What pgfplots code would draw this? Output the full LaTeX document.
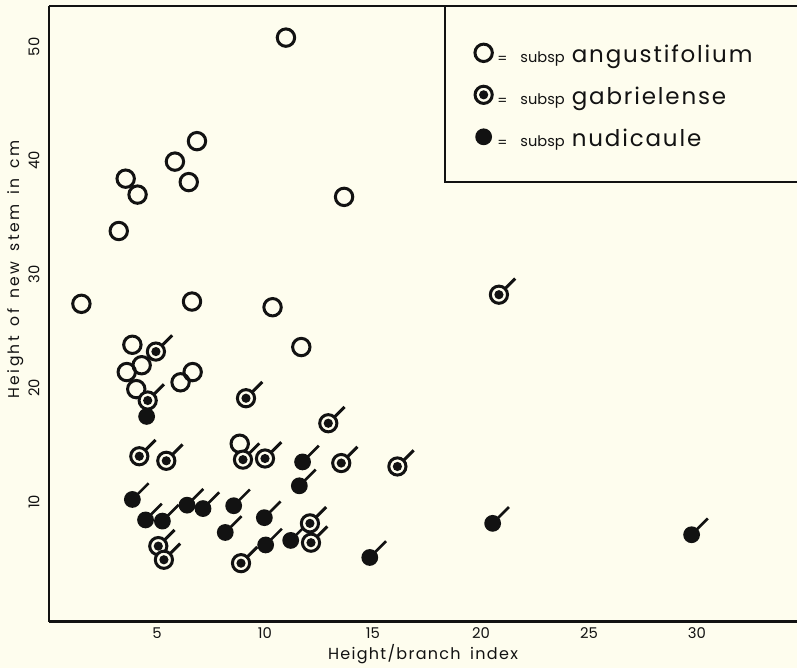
\documentclass[border=0pt]{standalone}
\usepackage{pgfplots}
\pgfplotsset{compat=1.18}
\usepackage{fontspec}
\setmainfont{Poppins}
\newfontfamily\spacedfont[LetterSpace=8]{Poppins}
\newfontfamily\labfont[LetterSpace=8]{Poppins}
\newfontfamily\ylabfont[LetterSpace=15]{Poppins}
\definecolor{bgc}{RGB}{254,253,238}
\definecolor{ink}{RGB}{18,18,18}

\pgfdeclareplotmark{ringdot}{%
  \pgfpathcircle{\pgfpointorigin}{4.3bp}\pgfusepathqfillstroke
  \begin{pgfscope}\pgfsetfillcolor{ink}%
  \pgfpathcircle{\pgfpointorigin}{2.3bp}\pgfusepathqfill\end{pgfscope}}
\pgfdeclareplotmark{tickedringdot}{%
  \pgfpathmoveto{\pgfpointpolar{45}{4.6bp}}\pgfpathlineto{\pgfpointpolar{45}{11.5bp}}\pgfusepathqstroke
  \pgfuseplotmark{ringdot}}
\pgfdeclareplotmark{disc}{%
  \begin{pgfscope}\pgfsetfillcolor{ink}%
  \pgfpathcircle{\pgfpointorigin}{4.2bp}\pgfusepathqfill\end{pgfscope}}
\pgfdeclareplotmark{tickeddisc}{%
  \pgfpathmoveto{\pgfpointpolar{45}{3bp}}\pgfpathlineto{\pgfpointpolar{45}{11.5bp}}\pgfusepathqstroke
  \pgfuseplotmark{disc}}

\newcommand\leg[1]{\raisebox{-0.6bp}{\fontsize{7bp}{8bp}\selectfont =}\hspace{6.5bp}{\fontsize{7.3bp}{8bp}\selectfont subsp}\hspace{3.5bp}{\spacedfont\fontsize{11.5bp}{14bp}\selectfont #1}}
\newcommand\ws{\hspace{5bp}}

\begin{document}
\begin{tikzpicture}
\fill[bgc] (-24.5bp,-23.15bp) rectangle (374bp,310.85bp);
\useasboundingbox (-24.5bp,-23.15bp) rectangle (374bp,310.85bp);
\begin{axis}[
  scale only axis, width=374bp, height=307.85bp,
  xmin=0, xmax=34.63, ymin=-0.545, ymax=53.58,
  axis x line=box, axis y line*=left,
  axis line style={-, line width=1.3bp, draw=ink},
  xtick={5,10,...,30}, ytick={10,20,...,50},
  major tick length=0pt, tick style={draw=none},
  /pgf/number format/assume math mode=true,
  ticklabel style={font=\fontsize{7.4bp}{8bp}\selectfont, text=ink, inner sep=0pt},
  xticklabel style={anchor=center, yshift=-5.65bp},
  yticklabel style={anchor=center, xshift=-7.5bp, rotate=90},
  xlabel={Height/branch\hspace{2bp} index},
  ylabel={Height\ws of\ws new\ws stem\ws in\ws cm},
  xlabel style={at={(axis description cs:0.5,-0.0525)}, anchor=center, font=\labfont\fontsize{8bp}{9bp}\selectfont, text=ink, inner sep=0pt},
  ylabel style={at={(axis description cs:-0.0441,0.572)}, anchor=center, rotate=0, font=\ylabfont\fontsize{7.8bp}{9bp}\selectfont, text=ink, inner sep=0pt},
  legend image code/.code={\draw[#1] plot coordinates {(0bp,3.3bp)};},
  legend style={at={(axis cs:19.72,50.73)}, anchor=north west, draw=none, fill=none,
    inner sep=0pt, outer sep=0pt, row sep=0pt, column sep=2.5bp,
    nodes={inner sep=0pt, text height=12bp, text depth=9bp, text=ink}},
  legend cell align=left,
]
\draw[line width=1.3bp, ink] (axis cs:18.33,38.11) rectangle (axis cs:40,60);

\addlegendimage{only marks, mark=o, mark size=4.35bp, mark options={line width=1.5bp, draw=ink}}
\addlegendentry{\leg{angustifolium}}
\addlegendimage{only marks, mark=ringdot, mark options={line width=1.5bp, draw=ink, fill=bgc}}
\addlegendentry{\leg{gabrielense}}
\addlegendimage{only marks, mark=disc, mark options={line width=1.3bp, draw=ink}}
\addlegendentry{\leg{nudicaule}}

% subsp angustifolium
\addplot[only marks, mark=o, mark size=4.35bp, mark options={line width=1.5bp, draw=ink}, forget plot] coordinates {
(10.97,50.8) (6.85,41.7) (5.83,39.9) (6.47,38.1) (3.55,38.4) (4.10,37.0)
(13.66,36.8) (3.23,33.8) (1.50,27.4) (6.62,27.6) (10.35,27.1) (3.86,23.8)
(11.68,23.6) (4.29,22.0) (3.60,21.4) (6.65,21.4) (6.09,20.5) (4.04,19.9)
(8.83,15.1)
};
% subsp nudicaule (no tick)
\addplot[only marks, mark=disc, forget plot] coordinates {
(4.52,17.5)
};
% subsp nudicaule (ticked)
\addplot[only marks, mark=tickeddisc, mark options={line width=1.3bp, draw=ink}, forget plot] coordinates {
(11.74,13.5) (11.59,11.4) (3.86,10.2) (4.47,8.4) (5.25,8.3) (6.39,9.7)
(7.13,9.4) (8.55,9.65) (8.16,7.3) (9.97,8.6) (10.03,6.2) (11.19,6.6)
(14.85,5.1) (20.54,8.1) (29.75,7.1)
};
% subsp gabrielense (ticked)
\addplot[only marks, mark=tickedringdot, mark options={line width=1.5bp, draw=ink, fill=bgc}, forget plot] coordinates {
(20.83,28.2) (4.95,23.2) (4.57,18.9) (9.12,19.1) (12.93,16.9) (4.18,14.0)
(5.43,13.6) (8.98,13.7) (10.00,13.8) (13.53,13.4) (16.13,13.1) (12.08,8.1)
(12.13,6.4) (5.06,6.1) (5.32,4.9) (8.89,4.6)
};
\end{axis}
\end{tikzpicture}
\end{document}
